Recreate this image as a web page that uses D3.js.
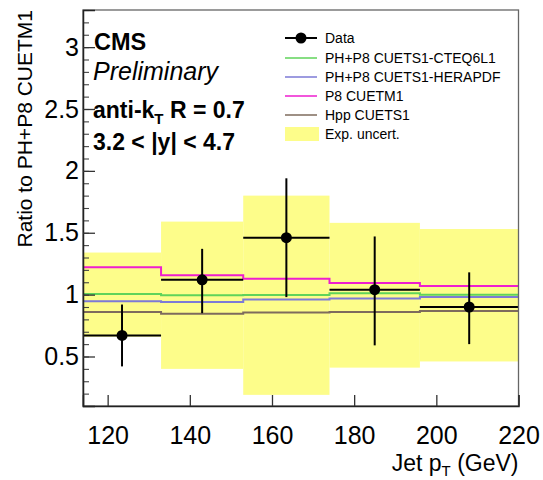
<!DOCTYPE html>
<html>
<head>
<meta charset="utf-8">
<script src="https://cdn.jsdelivr.net/npm/d3@7"></script>
<style>
  html, body { margin: 0; padding: 0; background: #fff; }
  svg { display: block; font-family: "Liberation Sans", Arial, sans-serif; }
</style>
</head>
<body>
<svg id="chart" width="543" height="480"></svg>
<script>
// Jet pT bin edges (GeV)
const binEdges = [114, 133, 153, 174, 196, 220];

// Measured ratio and its error bar extent per bin
const dataRatio = [0.67, 1.12, 1.46, 1.04, 0.90];
const dataHigh  = [0.92, 1.37, 1.94, 1.47, 1.18];
const dataLow   = [0.42, 0.85, 0.98, 0.59, 0.60];

// Experimental uncertainty band per bin
const expHigh = [1.34, 1.59, 1.80, 1.58, 1.53];
const expLow  = [0.66, 0.40, 0.19, 0.41, 0.46];

// Model predictions, ratio to PH+P8 CUETM1
const phCteq = [1.005, 0.995, 0.997, 1.012, 1.000];
const phHera = [0.946, 0.941, 0.960, 0.968, 0.980];
const p8Cuetm1 = [1.222, 1.156, 1.129, 1.094, 1.070];
const hppCuets1 = [0.860, 0.845, 0.855, 0.860, 0.868];

// Axis ticks
const xTicks = [120, 140, 160, 180, 200, 220];
const yMajorTicks = [0.5, 1, 1.5, 2, 2.5, 3];
const yMinorTicks = d3.range(2, 34).map(d => d / 10);

const W = 543, H = 480;
const margin = { left: 83, top: 10, right: 24.5, bottom: 74 };
const innerW = W - margin.left - margin.right;
const innerH = H - margin.top - margin.bottom;

const svg = d3.select("#chart");
const g = svg.append("g").attr("transform", `translate(${margin.left},${margin.top})`);

const x = d3.scaleLinear().domain([114, 220]).range([0, innerW]);
const y = d3.scaleLinear().domain([0.1, 3.3]).range([innerH, 0]);

const bins = d3.range(dataRatio.length).map(i => ({
  lo: binEdges[i], hi: binEdges[i + 1], c: (binEdges[i] + binEdges[i + 1]) / 2,
  v: dataRatio[i], eh: dataHigh[i], el: dataLow[i],
  bh: expHigh[i], bl: expLow[i]
}));

// Uncertainty band
g.append("g").selectAll("rect").data(bins).join("rect")
  .attr("x", d => x(d.lo))
  .attr("width", d => x(d.hi) - x(d.lo))
  .attr("y", d => y(d.bh))
  .attr("height", d => y(d.bl) - y(d.bh))
  .attr("fill", "#fdfd8a");

// Step-line histograms for the models
function stepPath(vals) {
  const pts = [];
  vals.forEach((v, i) => {
    pts.push([x(binEdges[i]), y(v)]);
    pts.push([x(binEdges[i + 1]), y(v)]);
  });
  return d3.line()(pts);
}
const models = [
  { name: "PH+P8 CUETS1-CTEQ6L1", vals: phCteq, color: "#5fd35a" },
  { name: "PH+P8 CUETS1-HERAPDF", vals: phHera, color: "#7d7ad6" },
  { name: "P8 CUETM1", vals: p8Cuetm1, color: "#ee1ecf" },
  { name: "Hpp CUETS1", vals: hppCuets1, color: "#7e6b5d" }
];
[models[3], models[1], models[0], models[2]].forEach(m => {
  g.append("path").attr("d", stepPath(m.vals))
    .attr("fill", "none").attr("stroke", m.color).attr("stroke-width", 2);
});

// Data points with error bars
const pts = g.append("g");
pts.selectAll("line.h").data(bins).join("line").attr("class", "h")
  .attr("x1", d => x(d.lo)).attr("x2", d => x(d.hi))
  .attr("y1", d => y(d.v)).attr("y2", d => y(d.v))
  .attr("stroke", "#000").attr("stroke-width", 2);
pts.selectAll("line.v").data(bins).join("line").attr("class", "v")
  .attr("x1", d => x(d.c)).attr("x2", d => x(d.c))
  .attr("y1", d => y(d.eh)).attr("y2", d => y(d.el))
  .attr("stroke", "#000").attr("stroke-width", 2);
pts.selectAll("circle").data(bins).join("circle")
  .attr("cx", d => x(d.c)).attr("cy", d => y(d.v)).attr("r", 5.5)
  .attr("fill", "#000");

// Frame
g.append("rect").attr("x", 0).attr("y", 0).attr("width", innerW).attr("height", innerH)
  .attr("fill", "none").attr("stroke", "#666").attr("stroke-width", 1.3);

// X axis (ticks pointing inward)
const xAxis = g.append("g").attr("transform", `translate(0,${innerH})`)
  .call(d3.axisBottom(x).tickValues(xTicks).tickSize(-11).tickPadding(20).tickFormat(d3.format("d")));
xAxis.select(".domain").attr("stroke", "#222").attr("stroke-width", 1.5);
xAxis.selectAll(".tick line").attr("stroke", "#333").attr("stroke-width", 1.3);
xAxis.selectAll(".tick text").attr("font-size", 25).attr("fill", "#000")
  .attr("font-family", "Liberation Sans, Arial, sans-serif");

// Y axis minor ticks
g.append("g").call(d3.axisLeft(y).tickValues(yMinorTicks).tickSize(-6).tickFormat(""))
  .call(a => a.select(".domain").remove())
  .selectAll(".tick line").attr("stroke", "#444").attr("stroke-width", 1.1);

// Y axis major ticks
const yAxis = g.append("g")
  .call(d3.axisLeft(y).tickValues(yMajorTicks).tickSize(-12).tickPadding(4).tickFormat(d => String(d)));
yAxis.select(".domain").attr("stroke", "#222").attr("stroke-width", 1.5);
yAxis.selectAll(".tick line").attr("stroke", "#333").attr("stroke-width", 1.3);
yAxis.selectAll(".tick text").attr("font-size", 25).attr("fill", "#000")
  .attr("font-family", "Liberation Sans, Arial, sans-serif");

// Axis titles
svg.append("text")
  .attr("transform", `translate(32,${margin.top}) rotate(-90)`)
  .attr("text-anchor", "end").attr("font-size", 21).attr("fill", "#000")
  .text("Ratio to PH+P8 CUETM1");

const xt = svg.append("text").attr("x", W - margin.right).attr("y", 471)
  .attr("text-anchor", "end").attr("font-size", 23).attr("fill", "#000");
xt.append("tspan").text("Jet p");
xt.append("tspan").attr("font-size", 15).attr("dy", 5).text("T");
xt.append("tspan").attr("dy", -5).text(" (GeV)");

// CMS labels
const lab = svg.append("g").attr("fill", "#000");
lab.append("text").attr("x", 94).attr("y", 50).attr("font-size", 23.5).attr("font-weight", "bold").text("CMS");
lab.append("text").attr("x", 93).attr("y", 80).attr("font-size", 25).attr("font-style", "italic").text("Preliminary");
const ak = lab.append("text").attr("x", 93).attr("y", 118).attr("font-size", 23).attr("font-weight", "bold");
ak.append("tspan").text("anti-k");
ak.append("tspan").attr("font-size", 15).attr("dy", 6).text("T");
ak.append("tspan").attr("dy", -6).text(" R = 0.7");
lab.append("text").attr("x", 93).attr("y", 150).attr("font-size", 23).attr("font-weight", "bold").text("3.2 < |y| < 4.7");

// Legend
const leg = svg.append("g");
const lx0 = 285, lx1 = 317, tx = 325;
const rowY = [38, 58, 77, 96, 115, 134];
leg.append("line").attr("x1", lx0).attr("x2", lx1).attr("y1", rowY[0]).attr("y2", rowY[0])
  .attr("stroke", "#000").attr("stroke-width", 2);
leg.append("circle").attr("cx", (lx0 + lx1) / 2).attr("cy", rowY[0]).attr("r", 5.5).attr("fill", "#000");
leg.append("text").attr("x", tx).attr("y", rowY[0] + 5).attr("font-size", 14).text("Data");
models.forEach((m, i) => {
  const yy = rowY[i + 1];
  leg.append("line").attr("x1", lx0).attr("x2", lx1).attr("y1", yy).attr("y2", yy)
    .attr("stroke", m.color).attr("stroke-width", 1.5);
  leg.append("text").attr("x", tx).attr("y", yy + 5).attr("font-size", 14).text(m.name);
});
leg.append("rect").attr("x", lx0).attr("y", rowY[5] - 7).attr("width", lx1 - lx0 + 2).attr("height", 14)
  .attr("fill", "#fdfd8a");
leg.append("text").attr("x", tx).attr("y", rowY[5] + 5).attr("font-size", 14).text("Exp. uncert.");
</script>
</body>
</html>
